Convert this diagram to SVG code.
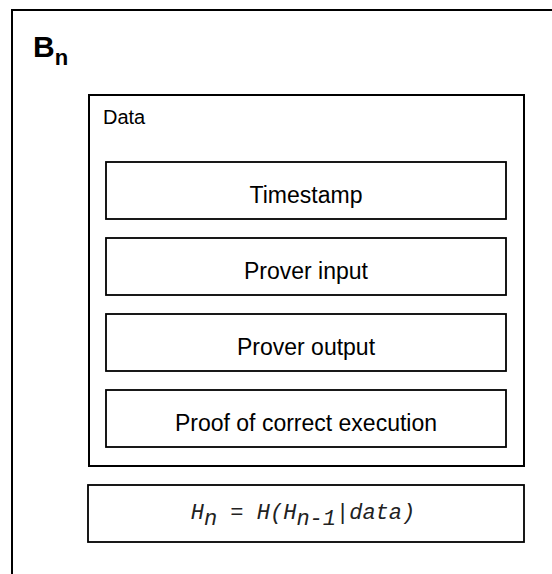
<svg xmlns="http://www.w3.org/2000/svg" width="552" height="574" viewBox="0 0 552 574">
<style>
.box{fill:#fff;stroke:#000;stroke-width:2}
.inner{fill:#fff;stroke:#000;stroke-width:1.8}
.lbl{font-family:"Liberation Sans",Arial,sans-serif;font-size:23px;fill:#000;text-anchor:middle}
.mono{font-family:"Liberation Mono","Courier New",monospace;font-style:italic;font-size:22px;fill:#222}
</style>
<rect width="552" height="574" fill="#fff"/>
<g id="block">
<rect class="box" x="12" y="10" width="560" height="600"/>
<text x="33" y="57" font-family="Liberation Sans,Arial,sans-serif" font-weight="bold" font-size="30">B<tspan font-size="22" dy="8">n</tspan></text>
</g>
<g id="data">
<rect class="box" x="89" y="95" width="435" height="371"/>
<text x="103" y="124" font-family="Liberation Sans,Arial,sans-serif" font-size="20">Data</text>
</g>
<g id="timestamp">
<rect class="inner" x="106" y="162" width="400" height="57"/>
<text class="lbl" x="306" y="203">Timestamp</text>
</g>
<g id="prover-input">
<rect class="inner" x="106" y="238" width="400" height="57"/>
<text class="lbl" x="306" y="279">Prover input</text>
</g>
<g id="prover-output">
<rect class="inner" x="106" y="314" width="400" height="57"/>
<text class="lbl" x="306" y="355">Prover output</text>
</g>
<g id="proof">
<rect class="inner" x="106" y="390" width="400" height="57"/>
<text class="lbl" x="306" y="431">Proof of correct execution</text>
</g>
<g id="hash">
<rect class="inner" x="88" y="485" width="436" height="57"/>
<text class="mono" x="303" y="519" text-anchor="middle">H<tspan dy="6">n</tspan><tspan dy="-6"> = H(H</tspan><tspan dy="6">n-1</tspan><tspan dy="-6">|data)</tspan></text>
</g>
<g id="connectors"></g>
</svg>
